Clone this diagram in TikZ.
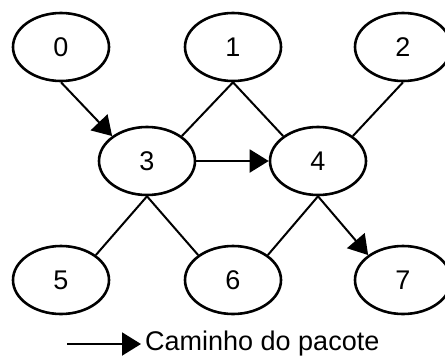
\documentclass[tikz,border=0pt]{standalone}
\usepackage{fontspec}
\setmainfont{Liberation Sans}
\usetikzlibrary{positioning, arrows.meta, shapes.geometric}

\begin{document}
\begin{tikzpicture}[
    x=1pt, y=-1pt,
    router/.style={
        ellipse,
        draw=black,
        line width=2.6pt,
        minimum width=96pt,
        minimum height=68pt,
        inner sep=0pt,
        font=\fontsize{27}{32}\selectfont
    },
    link/.style={line width=2pt},
    path/.style={line width=2pt, -{Triangle[length=19pt, width=23pt]}}
]

% --- BOUNDING BOX ---
\useasboundingbox (0,0) rectangle (445,360);
\clip (0,0) rectangle (445,360);

% --- ROUTERS ---
\node[router] (n0) at (61,47) {0};
\node[router] (n1) at (233,47) {1};
\node[router] (n2) at (403,47) {2};
\node[router] (n3) at (147,161) {3};
\node[router] (n4) at (318,161) {4};
\node[router] (n5) at (61,280) {5};
\node[router] (n6) at (233,280) {6};
\node[router] (n7) at (403,280) {7};

% --- LINKS ---
\draw[link] (n3.north east) -- (n1.south);
\draw[link] (n1.south) -- (n4.north west);
\draw[link] (n2.south) -- (n4.north east);
\draw[link] (n3.south) -- (n5.north east);
\draw[link] (n3.south) -- (n6.north west);
\draw[link] (n4.south) -- (n6.north east);

% --- PACKET PATH ---
\draw[path] (n0.south) -- (n3.north west);
\draw[path] (n3.east) -- (n4.west);
\draw[path] (n4.south) -- (n7.north west);

% --- LEGEND ---
\coordinate (leg) at (67,344);
\node[right, inner ysep=0pt, inner xsep=4pt, font=\fontsize{27}{32}\selectfont] (legtext) at (141,344) {Caminho do pacote};
\draw[path] (leg) -- (legtext.west);

\end{tikzpicture}
\end{document}
